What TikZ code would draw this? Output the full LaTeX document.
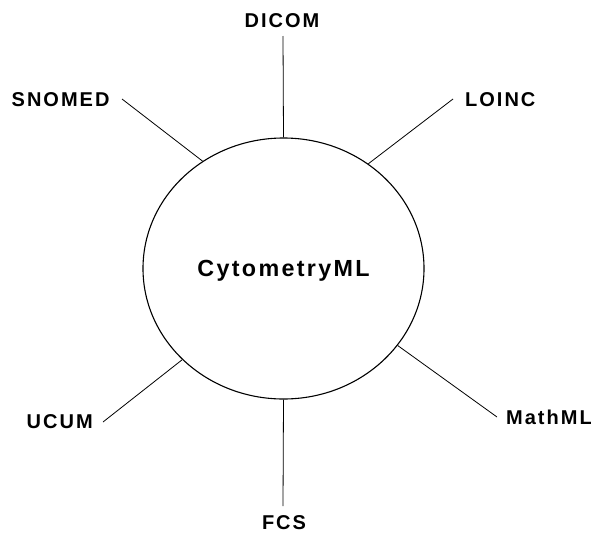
\documentclass[tikz,border=0pt]{standalone}
\usepackage{fontspec}
\setmainfont{Liberation Sans}
\newfontfamily\spacedfont[LetterSpace=10]{Liberation Sans}
\usetikzlibrary{shapes.geometric}
\tikzset{
  lbl/.style={font=\spacedfont\fontsize{20}{24}\selectfont\bfseries, inner sep=0pt},
  hub/.style={ellipse, draw, line width=1.1pt, minimum width=281pt, minimum height=261pt, inner sep=0pt, text depth=0pt, font=\spacedfont\fontsize{23.3}{28}\selectfont\bfseries},
  spoke/.style={line width=0.8pt}
}
\begin{document}
\begin{tikzpicture}[x=1pt,y=-1pt]
\useasboundingbox (0,0) rectangle (591,533);
\node[hub] (c) at (283.5,268.5) {CytometryML};
\node[lbl] (dicom) at (282,21) {DICOM};
\node[lbl,anchor=west] (snomed) at (11.5,99.5) {SNOMED};
\node[lbl,anchor=west] (loinc) at (465,99.5) {LOINC};
\node[lbl,anchor=west] (ucum) at (26.5,422) {UCUM};
\node[lbl,anchor=west] (mathml) at (506,417) {MathML};
\node[lbl] (fcs) at (284,523) {FCS};
\coordinate (pd) at (283,36);
\coordinate (ps) at (122,99);
\coordinate (pl) at (453,99);
\coordinate (pm) at (497,417);
\coordinate (pu) at (103,422);
\coordinate (pf) at (283,506);
\draw[spoke] (pd) -- (c.90);
\draw[spoke] (ps) -- (c.127.7);
\draw[spoke] (pl) -- (c.51.3);
\draw[spoke] (pm) -- (c.-34);
\draw[spoke] (pu) -- (c.-138.9);
\draw[spoke] (pf) -- (c.270);
\end{tikzpicture}
\end{document}
